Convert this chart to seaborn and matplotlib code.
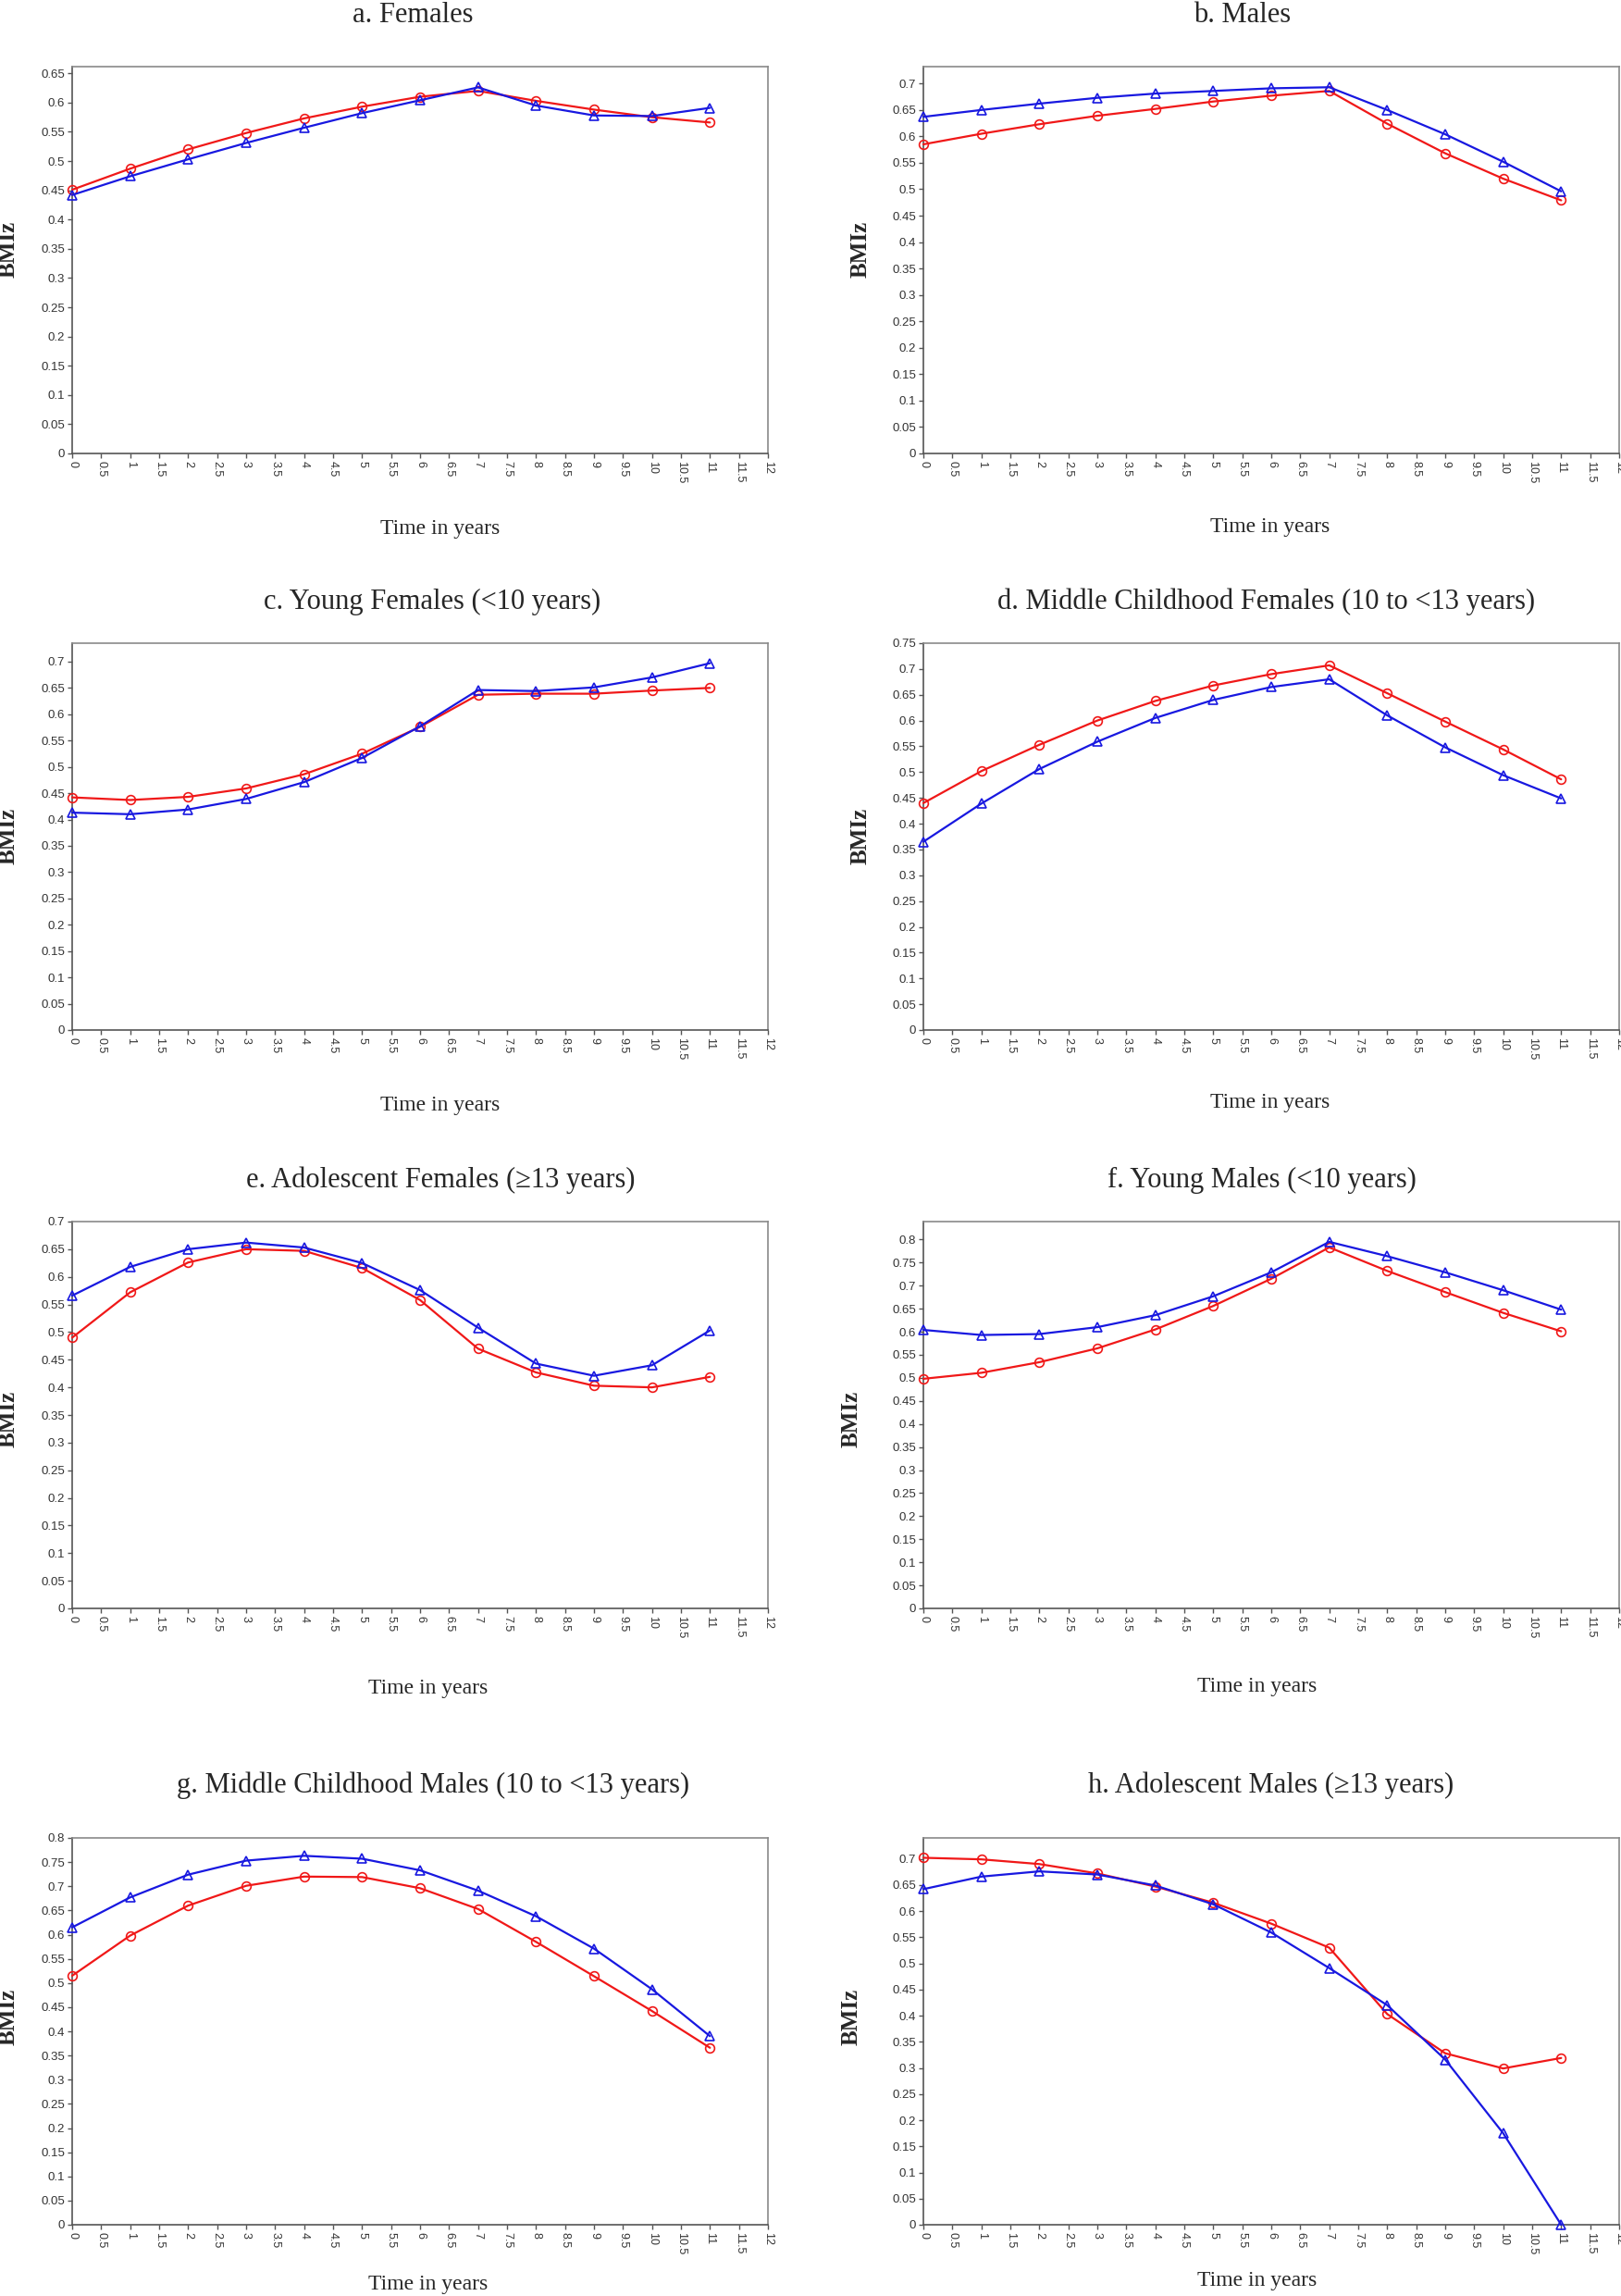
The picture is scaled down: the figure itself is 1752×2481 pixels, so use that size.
import numpy as np
import pandas as pd
import seaborn as sns
import matplotlib.pyplot as plt

# 1. Data (BMIz by year, two series per panel)
years = [0, 1, 2, 3, 4, 5, 6, 7, 8, 9, 10, 11]

titles = [
    'a. Females',
    'b. Males',
    'c. Young Females (<10 years)',
    'd. Middle Childhood Females (10 to <13 years)',
    'e. Adolescent Females (\u226513 years)',
    'f. Young Males (<10 years)',
    'g. Middle Childhood Males (10 to <13 years)',
    'h. Adolescent Males (\u226513 years)',
]

red_a = [0.451, 0.487, 0.520, 0.548, 0.573, 0.593, 0.610, 0.620, 0.603, 0.588, 0.575, 0.566]
blue_a = [0.442, 0.474, 0.503, 0.531, 0.557, 0.582, 0.604, 0.626, 0.595, 0.578, 0.577, 0.591]

red_b = [0.585, 0.605, 0.623, 0.639, 0.652, 0.666, 0.677, 0.686, 0.624, 0.568, 0.520, 0.479]
blue_b = [0.637, 0.650, 0.662, 0.673, 0.681, 0.686, 0.691, 0.693, 0.650, 0.604, 0.552, 0.496]

red_c = [0.442, 0.437, 0.443, 0.459, 0.486, 0.525, 0.576, 0.637, 0.639, 0.639, 0.645, 0.650]
blue_c = [0.413, 0.410, 0.419, 0.439, 0.471, 0.517, 0.577, 0.646, 0.644, 0.651, 0.670, 0.697]

red_d = [0.440, 0.502, 0.553, 0.600, 0.638, 0.668, 0.690, 0.707, 0.653, 0.598, 0.544, 0.486]
blue_d = [0.365, 0.439, 0.506, 0.559, 0.605, 0.640, 0.665, 0.680, 0.610, 0.548, 0.494, 0.449]

red_e = [0.490, 0.572, 0.626, 0.650, 0.647, 0.616, 0.558, 0.470, 0.427, 0.403, 0.400, 0.419]
blue_e = [0.566, 0.618, 0.650, 0.662, 0.653, 0.625, 0.576, 0.508, 0.443, 0.421, 0.440, 0.503]

red_f = [0.498, 0.511, 0.534, 0.564, 0.605, 0.656, 0.715, 0.783, 0.732, 0.686, 0.641, 0.601]
blue_f = [0.604, 0.593, 0.595, 0.610, 0.636, 0.677, 0.729, 0.795, 0.764, 0.729, 0.690, 0.648]

red_g = [0.515, 0.598, 0.660, 0.701, 0.720, 0.719, 0.696, 0.653, 0.585, 0.514, 0.442, 0.366]
blue_g = [0.615, 0.677, 0.724, 0.753, 0.763, 0.757, 0.733, 0.691, 0.638, 0.571, 0.487, 0.390]

red_h = [0.702, 0.699, 0.690, 0.672, 0.647, 0.616, 0.576, 0.530, 0.403, 0.328, 0.299, 0.319]
blue_h = [0.642, 0.666, 0.676, 0.670, 0.649, 0.613, 0.559, 0.491, 0.420, 0.316, 0.175, 0.0]

y_max = [0.6615, 0.732, 0.735, 0.75, 0.70, 0.839, 0.80, 0.74]
y_top_tick = [0.65, 0.70, 0.70, 0.75, 0.70, 0.80, 0.80, 0.70]

red_series = [red_a, red_b, red_c, red_d, red_e, red_f, red_g, red_h]
blue_series = [blue_a, blue_b, blue_c, blue_d, blue_e, blue_f, blue_g, blue_h]

# 2. Layout (pixels in a 1752 x 2481 canvas)
W, H = 1752, 2481
col_x = [78, 998]
ax_w = 752
row_top = [72, 695, 1320, 1986]
ax_h = 418
title_x = [446, 1343, 467, 1369, 476, 1364, 468, 1374]
title_base = [24, 24, 658, 658, 1283, 1283, 1937, 1937]
xlab_x = [476, 1373, 476, 1373, 463, 1359, 463, 1359]
xlab_base = [577, 575, 1200, 1197, 1830, 1828, 2474, 2470]
ylab_x = [9, 930, 9, 930, 9, 920, 9, 920]
ylab_y = [269, 269, 903, 903, 1533, 1533, 2179, 2179]

RED = '#f01818'
BLUE = '#1818e0'
SERIF = 'Liberation Serif'

sns.set_style('white')
plt.rcParams['font.family'] = ['Liberation Sans', 'DejaVu Sans']

fig = plt.figure(figsize=(W / 100, H / 100), dpi=100)

def fx(px):
    return px / W

def fy(py):
    return 1 - py / H

xticks = np.arange(0, 12.01, 0.5)

for i in range(8):
    r, c = divmod(i, 2)
    left = col_x[c]
    top = row_top[r]
    ax = fig.add_axes([fx(left), fy(top + ax_h), ax_w / W, ax_h / H])

    df = pd.DataFrame({'time': years, 'red': red_series[i], 'blue': blue_series[i]})
    sns.lineplot(data=df, x='time', y='red', ax=ax, color=RED, lw=1.6,
                 marker='o', markersize=7, markerfacecolor='none',
                 markeredgecolor=RED, markeredgewidth=1.2, clip_on=False, zorder=3)
    sns.lineplot(data=df, x='time', y='blue', ax=ax, color=BLUE, lw=1.6,
                 marker='^', markersize=6.5, markerfacecolor='none',
                 markeredgecolor=BLUE, markeredgewidth=1.2, clip_on=False, zorder=4)

    ax.set_xlim(0, 12)
    ax.set_ylim(0, y_max[i])
    ax.set_xticks(xticks)
    ax.set_xticklabels(['%g' % v for v in xticks], rotation=-90, fontsize=9, color='#333333')
    yticks = np.arange(0, y_top_tick[i] + 0.001, 0.05)
    ax.set_yticks(yticks)
    ax.set_yticklabels(['%g' % round(v, 2) for v in yticks], fontsize=9.5, color='#333333')
    ax.tick_params(axis='both', direction='out', length=3.5, width=1, color='#555555', pad=2,
                   bottom=True, left=True)
    ax.set_xlabel('')
    ax.set_ylabel('')
    for side in ['left', 'bottom']:
        ax.spines[side].set_color('#555555')
        ax.spines[side].set_linewidth(1.2)
    for side in ['top', 'right']:
        ax.spines[side].set_color('#8a8a8a')
        ax.spines[side].set_linewidth(1.2)

    fig.text(fx(title_x[i]), fy(title_base[i]), titles[i], family=SERIF, fontsize=22,
             ha='center', va='baseline')
    fig.text(fx(xlab_x[i]), fy(xlab_base[i]), 'Time in years', family=SERIF, fontsize=17,
             ha='center', va='baseline')
    fig.text(fx(ylab_x[i]), fy(ylab_y[i]), 'BMIz', family=SERIF, fontsize=18, fontweight='bold',
             rotation=90, ha='center', va='center')

fig.savefig('out.png', dpi=100, facecolor='white')
